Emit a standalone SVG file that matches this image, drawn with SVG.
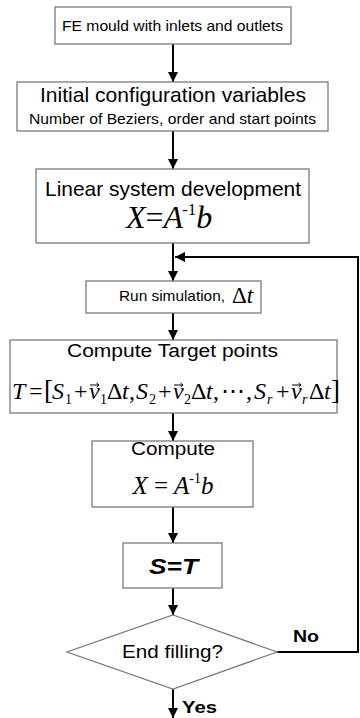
<svg xmlns="http://www.w3.org/2000/svg" width="360" height="718" viewBox="0 0 360 718">
  <style>
    .box { fill: #ffffff; stroke: #7a7a7a; stroke-width: 1.3; }
    .sans { font-family: "Liberation Sans", Arial, sans-serif; fill: #000; }
    .math { font-family: "Liberation Serif", "Times New Roman", serif; font-style: italic; fill: #000; }
    .rm { font-style: normal; }
    .wire { fill: none; stroke: #000; stroke-width: 2; }
    .vec { fill: none; stroke: #000; stroke-width: 1; }
  </style>
  <defs>
    <marker id="arrow" viewBox="0 0 10 10" refX="10" refY="5" markerWidth="5" markerHeight="5" orient="auto" markerUnits="strokeWidth">
      <path d="M0,0 L10,5 L0,10 Z" fill="#000"/>
    </marker>
    <!-- small arrow accent for vector symbols -->
    <path id="vec-accent" class="vec" d="M0,0 H9 M6.5,-2 L9,0 L6.5,2"/>
  </defs>
  <rect width="360" height="718" fill="#ffffff"/>

  <g id="connectors">
    <line class="wire" x1="173" y1="44" x2="173" y2="82" marker-end="url(#arrow)"/>
    <line class="wire" x1="173" y1="131" x2="173" y2="169" marker-end="url(#arrow)"/>
    <line class="wire" x1="173" y1="243" x2="173" y2="281" marker-end="url(#arrow)"/>
    <line class="wire" x1="173" y1="313" x2="173" y2="340" marker-end="url(#arrow)"/>
    <line class="wire" x1="173" y1="413" x2="173" y2="441" marker-end="url(#arrow)"/>
    <line class="wire" x1="173" y1="507" x2="173" y2="543" marker-end="url(#arrow)"/>
    <line class="wire" x1="173" y1="588" x2="173" y2="615" marker-end="url(#arrow)"/>
    <line class="wire" x1="173" y1="689" x2="173" y2="718" marker-end="url(#arrow)"/>
    <polyline class="wire" points="277,652 358,652 358,257 175,257" marker-end="url(#arrow)"/>
    <text class="sans" x="293" y="642" font-size="16" font-weight="bold" textLength="26" lengthAdjust="spacingAndGlyphs">No</text>
    <text class="sans" x="182" y="713" font-size="17" font-weight="bold" textLength="35" lengthAdjust="spacingAndGlyphs">Yes</text>
  </g>

  <g id="mould">
    <rect class="box" x="55" y="7" width="236" height="37"/>
    <text class="sans" x="62" y="30.5" font-size="15" textLength="221" lengthAdjust="spacingAndGlyphs">FE mould with inlets and outlets</text>
  </g>

  <g id="config">
    <rect class="box" x="17" y="82" width="311" height="49"/>
    <text class="sans" x="40" y="102" font-size="21" textLength="266" lengthAdjust="spacingAndGlyphs">Initial configuration variables</text>
    <text class="sans" x="29" y="124" font-size="15" textLength="287" lengthAdjust="spacingAndGlyphs">Number of Beziers, order and start points</text>
  </g>

  <g id="linear-system">
    <rect class="box" x="36" y="169" width="273" height="74"/>
    <text class="sans" x="45" y="196" font-size="21" textLength="256" lengthAdjust="spacingAndGlyphs">Linear system development</text>
    <text class="math" x="126" y="228" font-size="32">X<tspan class="rm">=</tspan>A<tspan font-size="17" dy="-13" dx="-1" class="rm">-1</tspan><tspan dy="13">b</tspan></text>
  </g>

  <g id="simulation">
    <rect class="box" x="86" y="281" width="175" height="32"/>
    <text class="sans" x="119" y="301" font-size="15" textLength="106" lengthAdjust="spacingAndGlyphs">Run simulation,</text>
    <text class="math" x="232" y="303" font-size="23"><tspan class="rm">Δ</tspan>t</text>
  </g>

  <g id="target-points">
    <rect class="box" x="10" y="340" width="327" height="73"/>
    <text class="sans" x="67" y="357" font-size="18" textLength="211" lengthAdjust="spacingAndGlyphs">Compute Target points</text>
    <text class="math" y="399" font-size="24">
      <tspan x="12">T</tspan><tspan x="29" class="rm">=</tspan><tspan x="44" class="rm" font-size="27">[</tspan>
      <tspan x="52">S</tspan><tspan x="65" dy="5" font-size="14" class="rm">1</tspan><tspan x="74" dy="-5" class="rm">+</tspan>
      <tspan x="89">v</tspan><tspan x="100" dy="5" font-size="14" class="rm">1</tspan><tspan x="107" dy="-5" class="rm">Δ</tspan><tspan x="122">t</tspan><tspan x="129" class="rm">,</tspan>
      <tspan x="136">S</tspan><tspan x="149" dy="5" font-size="14" class="rm">2</tspan><tspan x="158" dy="-5" class="rm">+</tspan>
      <tspan x="173">v</tspan><tspan x="184" dy="5" font-size="14" class="rm">2</tspan><tspan x="191" dy="-5" class="rm">Δ</tspan><tspan x="206">t</tspan><tspan x="213" class="rm">,</tspan>
      <tspan x="221" class="rm">⋯</tspan><tspan x="246" class="rm">,</tspan>
      <tspan x="254">S</tspan><tspan x="267" dy="5" font-size="14">r</tspan><tspan x="276" dy="-5" class="rm">+</tspan>
      <tspan x="291">v</tspan><tspan x="302" dy="5" font-size="14">r</tspan><tspan x="309" dy="-5" class="rm">Δ</tspan><tspan x="324">t</tspan><tspan x="331" class="rm" font-size="27">]</tspan>
    </text>
    <use href="#vec-accent" x="90" y="385"/>
    <use href="#vec-accent" x="174" y="385"/>
    <use href="#vec-accent" x="292" y="385"/>
  </g>

  <g id="compute">
    <rect class="box" x="92" y="441" width="161" height="66"/>
    <text class="sans" x="131" y="455" font-size="18" textLength="84" lengthAdjust="spacingAndGlyphs">Compute</text>
    <text class="math" x="173" y="494" font-size="25" text-anchor="middle">X <tspan class="rm">=</tspan> A<tspan font-size="14" dy="-11" class="rm">-1</tspan><tspan dy="11">b</tspan></text>
  </g>

  <g id="update">
    <rect class="box" x="123" y="543" width="99" height="45"/>
    <text class="sans" x="149" y="574" font-size="22" font-weight="bold" font-style="italic" textLength="49" lengthAdjust="spacingAndGlyphs">S=T</text>
  </g>

  <g id="end-filling">
    <polygon class="box" points="173,615 277,652 173,689 67,652"/>
    <text class="sans" x="122" y="658" font-size="17.5" textLength="101" lengthAdjust="spacingAndGlyphs">End filling?</text>
  </g>
</svg>
